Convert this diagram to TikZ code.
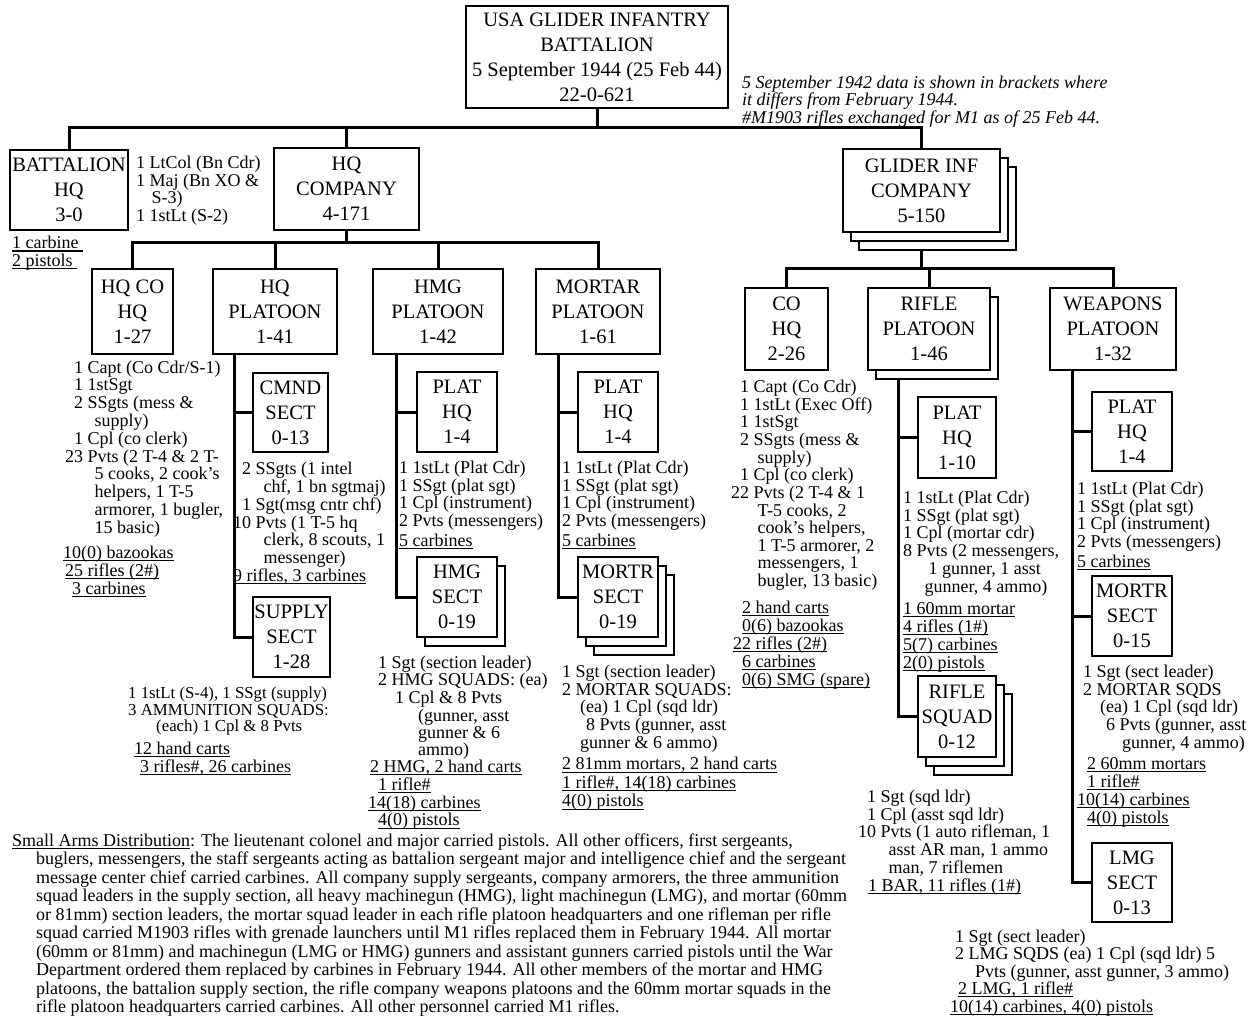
\documentclass[tikz,border=0pt]{standalone}
\usepackage{fontspec}
\setmainfont{Liberation Serif}
\newcommand{\myul}[1]{\leavevmode\setbox0\hbox{#1}\rlap{\rule[-2.9pt]{\wd0}{1.1pt}}\box0}
\newcommand{\bxf}{\fontsize{20.5}{25}\selectfont}
\newcommand{\txf}{\fontsize{18}{17.7}\selectfont}
\pgfdeclarelayer{bg}
\pgfsetlayers{bg,main}
\tikzset{
  bx/.style={draw, line width=2.4pt, fill=white, inner sep=0pt, align=center, font=\bxf},
  sh/.style={draw, line width=2.4pt, fill=white},
  conn/.style={line width=3pt, line cap=rect},
  tx/.style={anchor=north west, inner sep=0pt, font=\txf, align=left},
}
\begin{document}
\begin{tikzpicture}[x=1pt,y=-1pt]
\useasboundingbox (0,0) rectangle (1252,1015);
\begin{pgfonlayer}{bg}
\fill[white] (0,0) rectangle (1252,1015);
\end{pgfonlayer}

% ---------------- boxes ----------------
\node[bx, minimum width=262pt, minimum height=102pt] (top) at (597,57)
  {USA GLIDER INFANTRY\\BATTALION\\5 September 1944 (25 Feb 44)\\22-0-621};
\node[bx, minimum width=118pt, minimum height=80pt] (batt) at (69,190) {BATTALION\\HQ\\3-0};
\node[bx, minimum width=145pt, minimum height=82pt] (hqco) at (346.5,189) {HQ\\COMPANY\\4-171};
\draw[sh] (859,167) rectangle (1016,250);
\draw[sh] (851,158) rectangle (1008,241);
\node[bx, minimum width=157pt, minimum height=83pt] (glider) at (921.5,190.5) {GLIDER INF\\COMPANY\\5-150};

\node[bx, minimum width=81pt, minimum height=85pt] (hqcohq) at (132.5,311.5) {HQ CO\\HQ\\1-27};
\node[bx, minimum width=124pt, minimum height=85pt] (hqpl) at (275,311.5) {HQ\\PLATOON\\1-41};
\node[bx, minimum width=130pt, minimum height=85pt] (hmgpl) at (438,311.5) {HMG\\PLATOON\\1-42};
\node[bx, minimum width=124pt, minimum height=85pt] (mortpl) at (598,311.5) {MORTAR\\PLATOON\\1-61};

\node[bx, minimum width=75pt, minimum height=79pt] (cmnd) at (290.5,412.5) {CMND\\SECT\\0-13};
\node[bx, minimum width=77pt, minimum height=80pt] (supply) at (291.5,637) {SUPPLY\\SECT\\1-28};
\node[bx, minimum width=80pt, minimum height=80pt] (hmgplhq) at (457,412) {PLAT\\HQ\\1-4};
\draw[sh] (425,566) rectangle (505,646);
\node[bx, minimum width=80pt, minimum height=80pt] (hmgsect) at (457,597) {HMG\\SECT\\0-19};
\node[bx, minimum width=80pt, minimum height=80pt] (mortplhq) at (618,412) {PLAT\\HQ\\1-4};
\draw[sh] (594,575) rectangle (674,655);
\draw[sh] (586,566) rectangle (666,646);
\node[bx, minimum width=80pt, minimum height=80pt] (mortsect) at (618,597) {MORTR\\SECT\\0-19};

\node[bx, minimum width=83pt, minimum height=82pt] (cohq) at (786.5,329) {CO\\HQ\\2-26};
\draw[sh] (876,297) rectangle (998,379);
\node[bx, minimum width=122pt, minimum height=82pt] (riflepl) at (929,329) {RIFLE\\PLATOON\\1-46};
\node[bx, minimum width=126pt, minimum height=82pt] (weappl) at (1113,329) {WEAPONS\\PLATOON\\1-32};
\node[bx, minimum width=78pt, minimum height=81pt] (rplhq) at (957,437.5) {PLAT\\HQ\\1-10};
\draw[sh] (934,694) rectangle (1012,775);
\draw[sh] (926,685) rectangle (1004,766);
\node[bx, minimum width=78pt, minimum height=81pt] (rsquad) at (957,716.5) {RIFLE\\SQUAD\\0-12};
\node[bx, minimum width=80pt, minimum height=79pt] (wplhq) at (1132,431.5) {PLAT\\HQ\\1-4};
\node[bx, minimum width=80pt, minimum height=80pt] (wmortr) at (1132,616) {MORTR\\SECT\\0-15};
\node[bx, minimum width=80pt, minimum height=79pt] (wlmg) at (1132,882.5) {LMG\\SECT\\0-13};

% ---------------- connectors ----------------
\coordinate (b1) at (0,127);
\coordinate (b2) at (0,242);
\coordinate (b3) at (0,268);
\coordinate (sphq) at (234,0);
\coordinate (sphmg) at (396,0);
\coordinate (spmort) at (558,0);
\coordinate (sprifle) at (898,0);
\coordinate (spweap) at (1072,0);
\begin{pgfonlayer}{bg}
\draw[conn] (top.south) -- (top.south |- b1);
\draw[conn] (batt.north |- b1) -- (glider.north |- b1);
\foreach \n in {batt,hqco,glider} \draw[conn] (\n.north |- b1) -- (\n.north);
\draw[conn] (hqco.south) -- (hqco.south |- b2);
\draw[conn] (hqcohq.north |- b2) -- (mortpl.north |- b2);
\foreach \n in {hqcohq,hqpl,hmgpl,mortpl} \draw[conn] (\n.north |- b2) -- (\n.north);
\draw[conn] (glider.south) -- (glider.south |- b3);
\draw[conn] (cohq.north |- b3) -- (weappl.north |- b3);
\foreach \n in {cohq,riflepl,weappl} \draw[conn] (\n.north |- b3) -- (\n.north);
% spines
\draw[conn] (hqpl.south -| sphq) -- (sphq |- supply.west) -- (supply.west);
\draw[conn] (sphq |- cmnd.west) -- (cmnd.west);
\draw[conn] (hmgpl.south -| sphmg) -- (sphmg |- hmgsect.west) -- (hmgsect.west);
\draw[conn] (sphmg |- hmgplhq.west) -- (hmgplhq.west);
\draw[conn] (mortpl.south -| spmort) -- (spmort |- mortsect.west) -- (mortsect.west);
\draw[conn] (spmort |- mortplhq.west) -- (mortplhq.west);
\draw[conn] (riflepl.south -| sprifle) -- (sprifle |- rsquad.west) -- (rsquad.west);
\draw[conn] (sprifle |- rplhq.west) -- (rplhq.west);
\draw[conn] (weappl.south -| spweap) -- (spweap |- wlmg.west) -- (wlmg.west);
\draw[conn] (spweap |- wplhq.west) -- (wplhq.west);
\draw[conn] (spweap |- wmortr.west) -- (wmortr.west);
\end{pgfonlayer}

% ---------------- texts ----------------
\node[tx, font=\itshape\fontsize{18}{16}\selectfont] (note) at (742,75.5) {\begin{tabular}{@{}l@{}}
5 September 1942 data is shown in brackets where\\
it differs from February 1944.\\
\#M1903 rifles exchanged for M1 as of 25 Feb 44.\end{tabular}};

\node[tx, font=\fontsize{18}{16.8}\selectfont] (battcmd) at (136,156) {\begin{tabular}{@{}r@{\ }l@{}}
1&LtCol (Bn Cdr)\\1&Maj (Bn XO \&\\&\hspace{2pt}S-3)\\1&1stLt (S-2)\end{tabular}};
\node[tx, font=\fontsize{18}{16.3}\selectfont] (battarms) at (12,236) {\begin{tabular}{@{}l@{}}
\myul{1 carbine\ }\\\myul{2 pistols\ }\end{tabular}};

\node[tx] (hqcohqtx) at (65,360.6) {\begin{tabular}{@{}r@{\ }l@{}}
1&Capt (Co Cdr/S-1)\\1&1stSgt\\2&SSgts (mess \&\\&\hspace{7pt}supply)\\1&Cpl (co clerk)\\
23&Pvts (2 T-4 \& 2 T-\\&\hspace{7pt}5 cooks, 2 cook's\\&\hspace{7pt}helpers, 1 T-5\\&\hspace{7pt}armorer, 1 bugler,\\&\hspace{7pt}15 basic)\end{tabular}};
\node[tx] (hqcohqar) at (63,545.6) {\begin{tabular}{@{}l@{}}
\myul{10(0) bazookas}\\\hspace{2pt}\myul{25 rifles (2\#)}\\\hspace{9pt}\myul{3 carbines}\end{tabular}};

\node[tx] (cmndtx) at (233,461.6) {\begin{tabular}{@{}r@{\ }l@{}}
2&SSgts (1 intel\\&\hspace{8pt}chf, 1 bn sgtmaj)\\1&Sgt(msg cntr chf)\\10&Pvts (1 T-5 hq\\&\hspace{8pt}clerk, 8 scouts, 1\\&\hspace{8pt}messenger)\end{tabular}};
\node[tx] (cmndar) at (233,568.6) {\myul{9 rifles, 3 carbines}};

\node[tx, font=\fontsize{16.8}{16.3}\selectfont] (supplytx) at (128,687) {\begin{tabular}{@{}l@{}}
1 1stLt (S-4), 1 SSgt (supply)\\3 AMMUNITION SQUADS:\\\hspace{28pt}(each) 1 Cpl \& 8 Pvts\end{tabular}};
\node[tx, font=\fontsize{18}{18}\selectfont] (supplyar) at (134,741.6) {\begin{tabular}{@{}l@{}}
\myul{12 hand carts}\\\hspace{6pt}\myul{3 rifles\#, 26 carbines}\end{tabular}};

\node[tx] (hmghqtx) at (399,460.6) {\begin{tabular}{@{}r@{\ }l@{}}
1&1stLt (Plat Cdr)\\1&SSgt (plat sgt)\\1&Cpl (instrument)\\2&Pvts (messengers)\end{tabular}};
\node[tx] (hmghqar) at (399,533.6) {\myul{5 carbines}};

\node[tx, font=\fontsize{18}{17}\selectfont] (hmgsecttx) at (378,655.6) {\begin{tabular}{@{}l@{}}
1 Sgt (section leader)\\2 HMG SQUADS: (ea)\\\hspace{17pt}1 Cpl \& 8 Pvts\\\hspace{40pt}(gunner, asst\\\hspace{40pt}gunner \& 6\\\hspace{40pt}ammo)\end{tabular}};
\node[tx] (hmgsectar) at (368,759.6) {\begin{tabular}{@{}l@{}}
\hspace{2pt}\myul{2 HMG, 2 hand carts}\\\hspace{10pt}\myul{1 rifle\#}\\\myul{14(18) carbines}\\\hspace{10pt}\myul{4(0) pistols}\end{tabular}};

\node[tx] (morthqtx) at (562,460.6) {\begin{tabular}{@{}r@{\ }l@{}}
1&1stLt (Plat Cdr)\\1&SSgt (plat sgt)\\1&Cpl (instrument)\\2&Pvts (messengers)\end{tabular}};
\node[tx] (morthqar) at (562,533.6) {\myul{5 carbines}};

\node[tx, font=\fontsize{18}{17.75}\selectfont] (mortsecttx) at (562,664.6) {\begin{tabular}{@{}l@{}}
1 Sgt (section leader)\\2 MORTAR SQUADS:\\\hspace{18pt}(ea) 1 Cpl (sqd ldr)\\\hspace{24pt}8 Pvts (gunner, asst\\\hspace{18pt}gunner \& 6 ammo)\end{tabular}};
\node[tx, font=\fontsize{18}{18.5}\selectfont] (mortsectar) at (562,756.6) {\begin{tabular}{@{}l@{}}
\myul{2 81mm mortars, 2 hand carts}\\\myul{1 rifle\#, 14(18) carbines}\\\myul{4(0) pistols}\end{tabular}};

\node[tx, font=\fontsize{18}{17.4}\selectfont] (cohqtx) at (731,379.6) {\begin{tabular}{@{}r@{\ }l@{}}
1&Capt (Co Cdr)\\1&1stLt (Exec Off)\\1&1stSgt\\2&SSgts (mess \&\\&\hspace{4pt}supply)\\1&Cpl (co clerk)\\
22&Pvts (2 T-4 \& 1\\&\hspace{4pt}T-5 cooks, 2\\&\hspace{4pt}cook's helpers,\\&\hspace{4pt}1 T-5 armorer, 2\\&\hspace{4pt}messengers, 1\\&\hspace{4pt}bugler, 13 basic)\end{tabular}};
\node[tx, font=\fontsize{18}{18}\selectfont] (cohqar) at (733,600.6) {\begin{tabular}{@{}l@{}}
\hspace{9pt}\myul{2 hand carts}\\\hspace{9pt}\myul{0(6) bazookas}\\\myul{22 rifles (2\#)}\\\hspace{9pt}\myul{6 carbines}\\\hspace{9pt}\myul{0(6) SMG (spare)}\end{tabular}};

\node[tx, font=\fontsize{18}{17.8}\selectfont] (rplhqtx) at (903,490.6) {\begin{tabular}{@{}r@{\ }l@{}}
1&1stLt (Plat Cdr)\\1&SSgt (plat sgt)\\1&Cpl (mortar cdr)\\8&Pvts (2 messengers,\\&\hspace{12pt}1 gunner, 1 asst\\&\hspace{8pt}gunner, 4 ammo)\end{tabular}};
\node[tx, font=\fontsize{18}{18}\selectfont] (rplhqar) at (903,601.6) {\begin{tabular}{@{}l@{}}
\myul{1 60mm mortar}\\\myul{4 rifles (1\#)}\\\myul{5(7) carbines}\\\myul{2(0) pistols}\end{tabular}};

\node[tx, font=\fontsize{18}{17.5}\selectfont] (rsquadtx) at (858,789.6) {\begin{tabular}{@{}r@{\ }l@{}}
1&Sgt (sqd ldr)\\1&Cpl (asst sqd ldr)\\10&Pvts (1 auto rifleman, 1\\&\hspace{8pt}asst AR man, 1 ammo\\&\hspace{8pt}man, 7 riflemen\end{tabular}};
\node[tx] (rsquadar) at (868,878.6) {\myul{1 BAR, 11 rifles (1\#)}};

\node[tx] (wplhqtx) at (1077,481.6) {\begin{tabular}{@{}r@{\ }l@{}}
1&1stLt (Plat Cdr)\\1&SSgt (plat sgt)\\1&Cpl (instrument)\\2&Pvts (messengers)\end{tabular}};
\node[tx] (wplhqar) at (1077,554.6) {\myul{5 carbines}};

\node[tx, font=\fontsize{18}{17.75}\selectfont] (wmortrtx) at (1083,664.6) {\begin{tabular}{@{}l@{}}
1 Sgt (sect leader)\\2 MORTAR SQDS\\\hspace{17pt}(ea) 1 Cpl (sqd ldr)\\\hspace{23pt}6 Pvts (gunner, asst\\\hspace{39pt}gunner, 4 ammo)\end{tabular}};
\node[tx, font=\fontsize{18}{18}\selectfont] (wmortrar) at (1077,756.6) {\begin{tabular}{@{}l@{}}
\hspace{10pt}\myul{2 60mm mortars}\\\hspace{10pt}\myul{1 rifle\#}\\\myul{10(14) carbines}\\\hspace{10pt}\myul{4(0) pistols}\end{tabular}};

\node[tx, font=\fontsize{18}{17}\selectfont] (wlmgtx) at (955,929.6) {\begin{tabular}{@{}l@{}}
1 Sgt (sect leader)\\2 LMG SQDS (ea) 1 Cpl (sqd ldr) 5\\\hspace{20pt}Pvts (gunner, asst gunner, 3 ammo)\end{tabular}};
\node[tx, font=\fontsize{18}{17.5}\selectfont] (wlmgar) at (950,981.6) {\begin{tabular}{@{}l@{}}
\hspace{8pt}\myul{2 LMG, 1 rifle\#}\\\myul{10(14) carbines, 4(0) pistols}\end{tabular}};

\node[tx, font=\fontsize{18}{18.5}\selectfont] (para) at (12,833) {\begin{tabular}{@{}l@{}}
\myul{Small Arms Distribution}: The lieutenant colonel and major carried pistols. All other officers, first sergeants,\\
\hspace{24pt}buglers, messengers, the staff sergeants acting as battalion sergeant major and intelligence chief and the sergeant\\
\hspace{24pt}message center chief carried carbines. All company supply sergeants, company armorers, the three ammunition\\
\hspace{24pt}squad leaders in the supply section, all heavy machinegun (HMG), light machinegun (LMG), and mortar (60mm\\
\hspace{24pt}or 81mm) section leaders, the mortar squad leader in each rifle platoon headquarters and one rifleman per rifle\\
\hspace{24pt}squad carried M1903 rifles with grenade launchers until M1 rifles replaced them in February 1944. All mortar\\
\hspace{24pt}(60mm or 81mm) and machinegun (LMG or HMG) gunners and assistant gunners carried pistols until the War\\
\hspace{24pt}Department ordered them replaced by carbines in February 1944. All other members of the mortar and HMG\\
\hspace{24pt}platoons, the battalion supply section, the rifle company weapons platoons and the 60mm mortar squads in the\\
\hspace{24pt}rifle platoon headquarters carried carbines. All other personnel carried M1 rifles.\end{tabular}};
\end{tikzpicture}
\end{document}
